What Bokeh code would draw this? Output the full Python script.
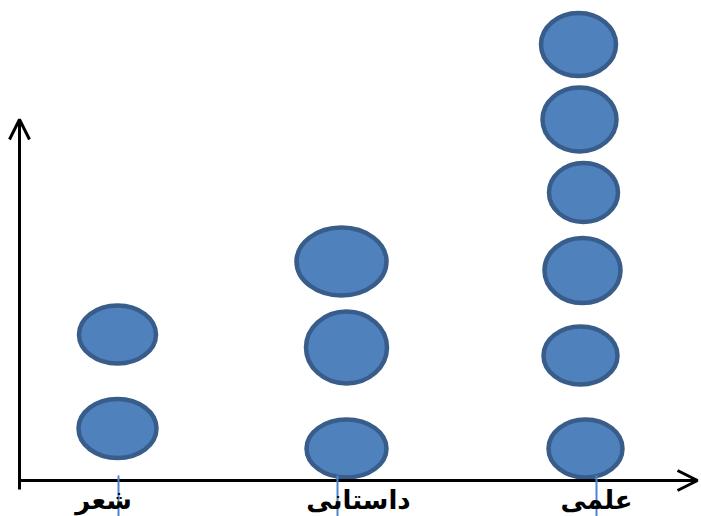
from bokeh.plotting import figure
from bokeh.models import Range1d, Arrow, OpenHead, ColumnDataSource
from bokeh.core.properties import value
from bokeh.embed import file_html
from bokeh.resources import INLINE

# ---- data (units: reference pixels, y measured up from the x axis) ----
categories = ["شعر", "داستانی", "علمی"]
counts = [2, 3, 6]
tick_x = [118, 337, 596]
label_shift = [-15, 21, 0]  # style: horizontal shift of each label

icon_x = [117, 117,
          346, 346, 341,
          585, 580, 582, 583, 579, 578]
icon_y = [52, 146,
          32, 133, 219,
          32, 125, 210, 288, 361, 436]
icon_w = [78, 77,
          80, 81, 90,
          74, 74, 76, 69, 74, 75]
icon_h = [59, 58,
          58, 72, 68,
          58, 58, 65, 59, 64, 63]

p = figure(width=701, height=516, output_backend="svg", toolbar_location=None,
           x_range=Range1d(0, 701), y_range=Range1d(-36, 480),
           min_border=0)
p.axis.visible = False
p.grid.visible = False
p.outline_line_color = None
p.background_fill_color = "white"
p.border_fill_color = "white"

# icons
src = ColumnDataSource(dict(x=icon_x, y=icon_y, w=icon_w, h=icon_h))
p.ellipse(x="x", y="y", width="w", height="h", source=src,
          fill_color="#4F81BD", line_color="#385D8A", line_width=4.5)

# axes with open arrow heads
p.segment(x0=[19], y0=[-9], x1=[19], y1=[350], line_color="black", line_width=3)
p.add_layout(Arrow(end=OpenHead(size=20, line_width=3, line_color="black"),
                   x_start=19, y_start=340, x_end=19, y_end=361,
                   line_color="black", line_width=3))
p.segment(x0=[17.5], y0=[0], x1=[685], y1=[0], line_color="black", line_width=3)
p.add_layout(Arrow(end=OpenHead(size=20, line_width=3, line_color="black"),
                   x_start=675, y_start=0, x_end=697, y_end=0,
                   line_color="black", line_width=3))

# ticks
p.segment(x0=tick_x, y0=[5] * 3, x1=tick_x, y1=[-40] * 3,
          line_color="#4A86D0", line_width=2)

# labels
lab = ColumnDataSource(dict(x=[t + s for t, s in zip(tick_x, label_shift)],
                            y=[-19] * 3, t=categories))
p.text(x="x", y="y", text="t", source=lab, text_font=value("DejaVu Sans"),
       text_font_style="bold", text_font_size="26px", text_color="black",
       text_align="center", text_baseline="middle")

open("out.html", "w").write(file_html(p, INLINE))
